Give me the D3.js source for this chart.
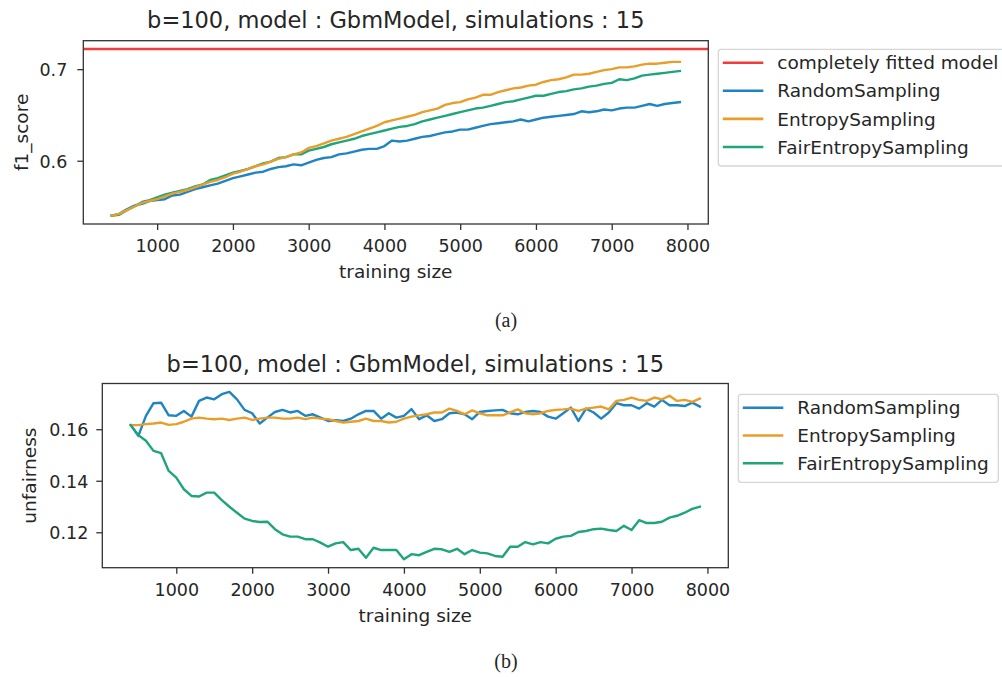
<!DOCTYPE html>
<html><head><meta charset="utf-8">
<script src="https://cdn.jsdelivr.net/npm/d3@7"></script>
<style>
html,body{margin:0;padding:0;background:#fff;}
svg{display:block;}
text{font-family:"DejaVu Sans",sans-serif;fill:#262626;}
</style></head>
<body>
<svg id="chart" width="1002" height="677"></svg>
<script>
// ---------------- DATA ----------------
const trainingSizes = [400,500,600,700,800,900,1000,1100,1200,1300,1400,1500,1600,1700,1800,1900,2000,2100,2200,2300,2400,2500,2600,2700,2800,2900,3000,3100,3200,3300,3400,3500,3600,3700,3800,3900,4000,4100,4200,4300,4400,4500,4600,4700,4800,4900,5000,5100,5200,5300,5400,5500,5600,5700,5800,5900,6000,6100,6200,6300,6400,6500,6600,6700,6800,6900,7000,7100,7200,7300,7400,7500,7600,7700,7800,7900];

const seriesNames = ["RandomSampling","EntropySampling","FairEntropySampling"];
const fittedLabel = "completely fitted model";
const fittedF1 = 0.722;

// (a) f1_score
const f1Random = [0.540,0.542,0.547,0.551,0.553,0.556,0.557,0.558,0.562,0.563,0.566,0.569,0.571,0.573,0.575,0.578,0.581,0.583,0.585,0.587,0.588,0.591,0.593,0.594,0.596,0.595,0.598,0.601,0.603,0.604,0.607,0.608,0.610,0.612,0.613,0.613,0.616,0.622,0.621,0.622,0.624,0.626,0.627,0.629,0.631,0.632,0.634,0.634,0.636,0.638,0.640,0.641,0.642,0.643,0.645,0.643,0.645,0.647,0.648,0.649,0.650,0.651,0.654,0.653,0.654,0.656,0.655,0.657,0.658,0.658,0.660,0.662,0.660,0.662,0.663,0.664];
const f1Entropy = [0.540,0.542,0.546,0.550,0.554,0.556,0.558,0.561,0.564,0.566,0.568,0.571,0.574,0.577,0.579,0.582,0.586,0.588,0.591,0.594,0.596,0.599,0.602,0.604,0.607,0.609,0.614,0.616,0.619,0.622,0.624,0.626,0.629,0.632,0.635,0.638,0.642,0.644,0.646,0.648,0.650,0.653,0.655,0.657,0.661,0.663,0.664,0.667,0.669,0.672,0.672,0.675,0.677,0.679,0.680,0.682,0.683,0.686,0.688,0.689,0.691,0.694,0.694,0.695,0.697,0.699,0.700,0.702,0.702,0.703,0.705,0.706,0.706,0.707,0.708,0.708];
const f1FairEntropy = [0.540,0.541,0.546,0.550,0.555,0.557,0.560,0.563,0.565,0.567,0.569,0.572,0.574,0.579,0.581,0.584,0.587,0.589,0.591,0.594,0.597,0.599,0.603,0.604,0.607,0.607,0.611,0.613,0.615,0.618,0.620,0.622,0.624,0.627,0.629,0.631,0.633,0.635,0.637,0.638,0.640,0.643,0.645,0.647,0.649,0.651,0.653,0.655,0.657,0.658,0.660,0.662,0.664,0.665,0.667,0.669,0.671,0.671,0.673,0.675,0.676,0.678,0.679,0.681,0.682,0.684,0.685,0.689,0.688,0.690,0.693,0.694,0.695,0.696,0.697,0.698];

// (b) unfairness
const unfRandom = [0.1616,0.1574,0.1652,0.1701,0.1703,0.1654,0.1652,0.1671,0.1649,0.1710,0.1723,0.1716,0.1736,0.1745,0.1716,0.1675,0.1662,0.1622,0.1645,0.1667,0.1675,0.1665,0.1671,0.1652,0.1658,0.1645,0.1632,0.1635,0.1632,0.1641,0.1658,0.1671,0.1671,0.1641,0.1662,0.1645,0.1652,0.1678,0.1639,0.1654,0.1632,0.1639,0.1662,0.1665,0.1658,0.1639,0.1667,0.1671,0.1673,0.1675,0.1662,0.1658,0.1667,0.1671,0.1667,0.1649,0.1641,0.1662,0.1684,0.1632,0.1680,0.1665,0.1641,0.1665,0.1701,0.1693,0.1693,0.1680,0.1701,0.1688,0.1714,0.1693,0.1693,0.1690,0.1703,0.1688];
const unfEntropy = [0.1616,0.1616,0.1620,0.1622,0.1626,0.1617,0.1620,0.1629,0.1641,0.1645,0.1641,0.1639,0.1641,0.1636,0.1641,0.1645,0.1636,0.1641,0.1645,0.1645,0.1641,0.1641,0.1645,0.1639,0.1645,0.1641,0.1639,0.1632,0.1626,0.1629,0.1632,0.1641,0.1632,0.1632,0.1626,0.1629,0.1641,0.1649,0.1654,0.1658,0.1665,0.1665,0.1680,0.1671,0.1658,0.1673,0.1662,0.1654,0.1654,0.1654,0.1665,0.1677,0.1662,0.1658,0.1662,0.1671,0.1675,0.1677,0.1680,0.1671,0.1680,0.1684,0.1688,0.1677,0.1710,0.1714,0.1723,0.1714,0.1710,0.1723,0.1716,0.1730,0.1710,0.1714,0.1706,0.1719];
const unfFairEntropy = [0.1616,0.1577,0.1555,0.1516,0.1507,0.1438,0.1412,0.1367,0.1341,0.1339,0.1354,0.1354,0.1325,0.1299,0.1276,0.1253,0.1244,0.1240,0.1241,0.1212,0.1192,0.1183,0.1183,0.1173,0.1173,0.1160,0.1144,0.1157,0.1162,0.1131,0.1136,0.1101,0.1140,0.1131,0.1131,0.1131,0.1095,0.1115,0.1111,0.1124,0.1136,0.1134,0.1124,0.1136,0.1115,0.1131,0.1121,0.1118,0.1108,0.1105,0.1144,0.1144,0.1162,0.1153,0.1162,0.1157,0.1175,0.1183,0.1186,0.1201,0.1205,0.1212,0.1214,0.1209,0.1205,0.1225,0.1209,0.1247,0.1236,0.1236,0.1241,0.1257,0.1264,0.1276,0.1291,0.1299];

const xTicks = [1000,2000,3000,4000,5000,6000,7000,8000];
const f1Ticks = [0.6,0.7];
const unfTicks = [0.12,0.14,0.16];
const titleText = "b=100, model : GbmModel, simulations : 15";
const xLabel = "training size";

// ---------------- STYLE ----------------
const colors = {red:"#f23b3b", blue:"#1f84c4", orange:"#e89e28", green:"#1fa57b"};
const FS = {tick:17.5, label:18.5, legend:18.5, title:22.5};
const svg = d3.select("#chart");

function drawPanel(cfg){
  const {left,right,top,bottom} = cfg.box;
  const xmin = d3.min(trainingSizes), xmax = d3.max(trainingSizes);
  const xpad = (xmax-xmin)*0.05;
  const x = d3.scaleLinear().domain([xmin-xpad, xmax+xpad]).range([left,right]);
  const allVals = cfg.series.flatMap(s=>s.values).concat(cfg.hline!=null?[cfg.hline]:[]);
  const ymin = d3.min(allVals), ymax = d3.max(allVals);
  const ypad = (ymax-ymin)*0.05;
  const y = d3.scaleLinear().domain([ymin-ypad, ymax+ypad]).range([bottom,top]);

  const clipId = "clip"+cfg.id;
  svg.append("clipPath").attr("id",clipId).append("rect")
    .attr("x",left).attr("y",top).attr("width",right-left).attr("height",bottom-top);

  const g = svg.append("g");
  const plot = g.append("g").attr("clip-path",`url(#${clipId})`);

  if(cfg.hline!=null){
    plot.append("line").attr("x1",left).attr("x2",right)
      .attr("y1",y(cfg.hline)).attr("y2",y(cfg.hline))
      .attr("stroke",colors.red).attr("stroke-width",2.6);
  }
  const line = d3.line().x((d,i)=>x(trainingSizes[i])).y(d=>y(d));
  cfg.series.forEach(s=>{
    plot.append("path").datum(s.values).attr("d",line)
      .attr("fill","none").attr("stroke",s.color).attr("stroke-width",2.4)
      .attr("stroke-linejoin","round").attr("stroke-linecap","square");
  });

  // axes
  const xAxis = d3.axisBottom(x).tickValues(xTicks).tickSize(6).tickPadding(0).tickFormat(d3.format("d"));
  const gx = g.append("g").attr("transform",`translate(0,${bottom})`).call(xAxis);
  gx.select(".domain").remove();
  gx.selectAll(".tick line").attr("stroke","#333").attr("stroke-width",1.3);
  gx.selectAll(".tick text").attr("y",28).attr("dy",null).attr("font-size",FS.tick)
    .style("font-family","DejaVu Sans").attr("fill","#262626");

  const yAxis = d3.axisLeft(y).tickValues(cfg.yTicks).tickSize(6).tickFormat(cfg.yFormat);
  const gy = g.append("g").attr("transform",`translate(${left},0)`).call(yAxis);
  gy.select(".domain").remove();
  gy.selectAll(".tick line").attr("stroke","#333").attr("stroke-width",1.3);
  gy.selectAll(".tick text").attr("x",-cfg.yLabGap).attr("dy","0.36em").attr("font-size",FS.tick)
    .style("font-family","DejaVu Sans").attr("fill","#262626");

  g.append("rect").attr("x",left).attr("y",top).attr("width",right-left).attr("height",bottom-top)
    .attr("fill","none").attr("stroke","#333").attr("stroke-width",1.3);

  // title & labels
  g.append("text").attr("x",(left+right)/2).attr("y",cfg.titleY).attr("text-anchor","middle")
    .attr("font-size",FS.title).text(titleText);
  g.append("text").attr("x",(left+right)/2).attr("y",bottom+54).attr("text-anchor","middle")
    .attr("font-size",FS.label).text(xLabel);
  g.append("text").attr("transform",`translate(${cfg.yLabelX},${(top+bottom)/2}) rotate(-90)`)
    .attr("text-anchor","middle").attr("font-size",FS.label).text(cfg.yLabel);

  // legend
  const L = cfg.legend;
  const lg = g.append("g");
  lg.append("rect").attr("x",L.x).attr("y",L.y).attr("width",L.w).attr("height",L.h)
    .attr("rx",3).attr("ry",3).attr("fill","#fff").attr("stroke","#d6d6d6").attr("stroke-width",1.3);
  L.items.forEach((it,i)=>{
    const cy = L.firstY + i*L.step;
    lg.append("line").attr("x1",L.x+4.5).attr("x2",L.x+45).attr("y1",cy).attr("y2",cy)
      .attr("stroke",it.color).attr("stroke-width",2.6);
    lg.append("text").attr("x",L.x+59).attr("y",cy).attr("dy","0.36em").attr("font-size",FS.legend).text(it.label);
  });

  // caption
  svg.append("text").attr("x",506).attr("y",cfg.captionY).attr("text-anchor","middle")
    .style("font-family","'Liberation Serif','Times New Roman',serif").attr("font-size",20)
    .attr("fill","#111").text(cfg.caption);
}

drawPanel({
  id:"a",
  box:{left:83.3,right:708.3,top:40.7,bottom:224},
  series:[
    {values:f1Random,color:colors.blue},
    {values:f1FairEntropy,color:colors.green},
    {values:f1Entropy,color:colors.orange}
  ],
  hline:fittedF1,
  yTicks:f1Ticks, yFormat:d3.format(".1f"), yLabGap:16,
  yLabel:"f1_score", yLabelX:28, titleY:27.7,
  legend:{x:718.3,y:49.3,w:300,h:116.7,firstY:62.7,step:28.1,
    items:[{label:fittedLabel,color:colors.red},{label:seriesNames[0],color:colors.blue},
           {label:seriesNames[1],color:colors.orange},{label:seriesNames[2],color:colors.green}]},
  caption:"(a)", captionY:327
});

drawPanel({
  id:"b",
  box:{left:102.3,right:728.3,top:383.5,bottom:567.7},
  series:[
    {values:unfRandom,color:colors.blue},
    {values:unfEntropy,color:colors.orange},
    {values:unfFairEntropy,color:colors.green}
  ],
  hline:null,
  yTicks:unfTicks, yFormat:d3.format(".2f"), yLabGap:14,
  yLabel:"unfairness", yLabelX:36, titleY:371.7,
  legend:{x:738.3,y:394.3,w:260,h:88,firstY:407.7,step:27.8,
    items:[{label:seriesNames[0],color:colors.blue},{label:seriesNames[1],color:colors.orange},
           {label:seriesNames[2],color:colors.green}]},
  caption:"(b)", captionY:668
});
</script>
</body></html>
